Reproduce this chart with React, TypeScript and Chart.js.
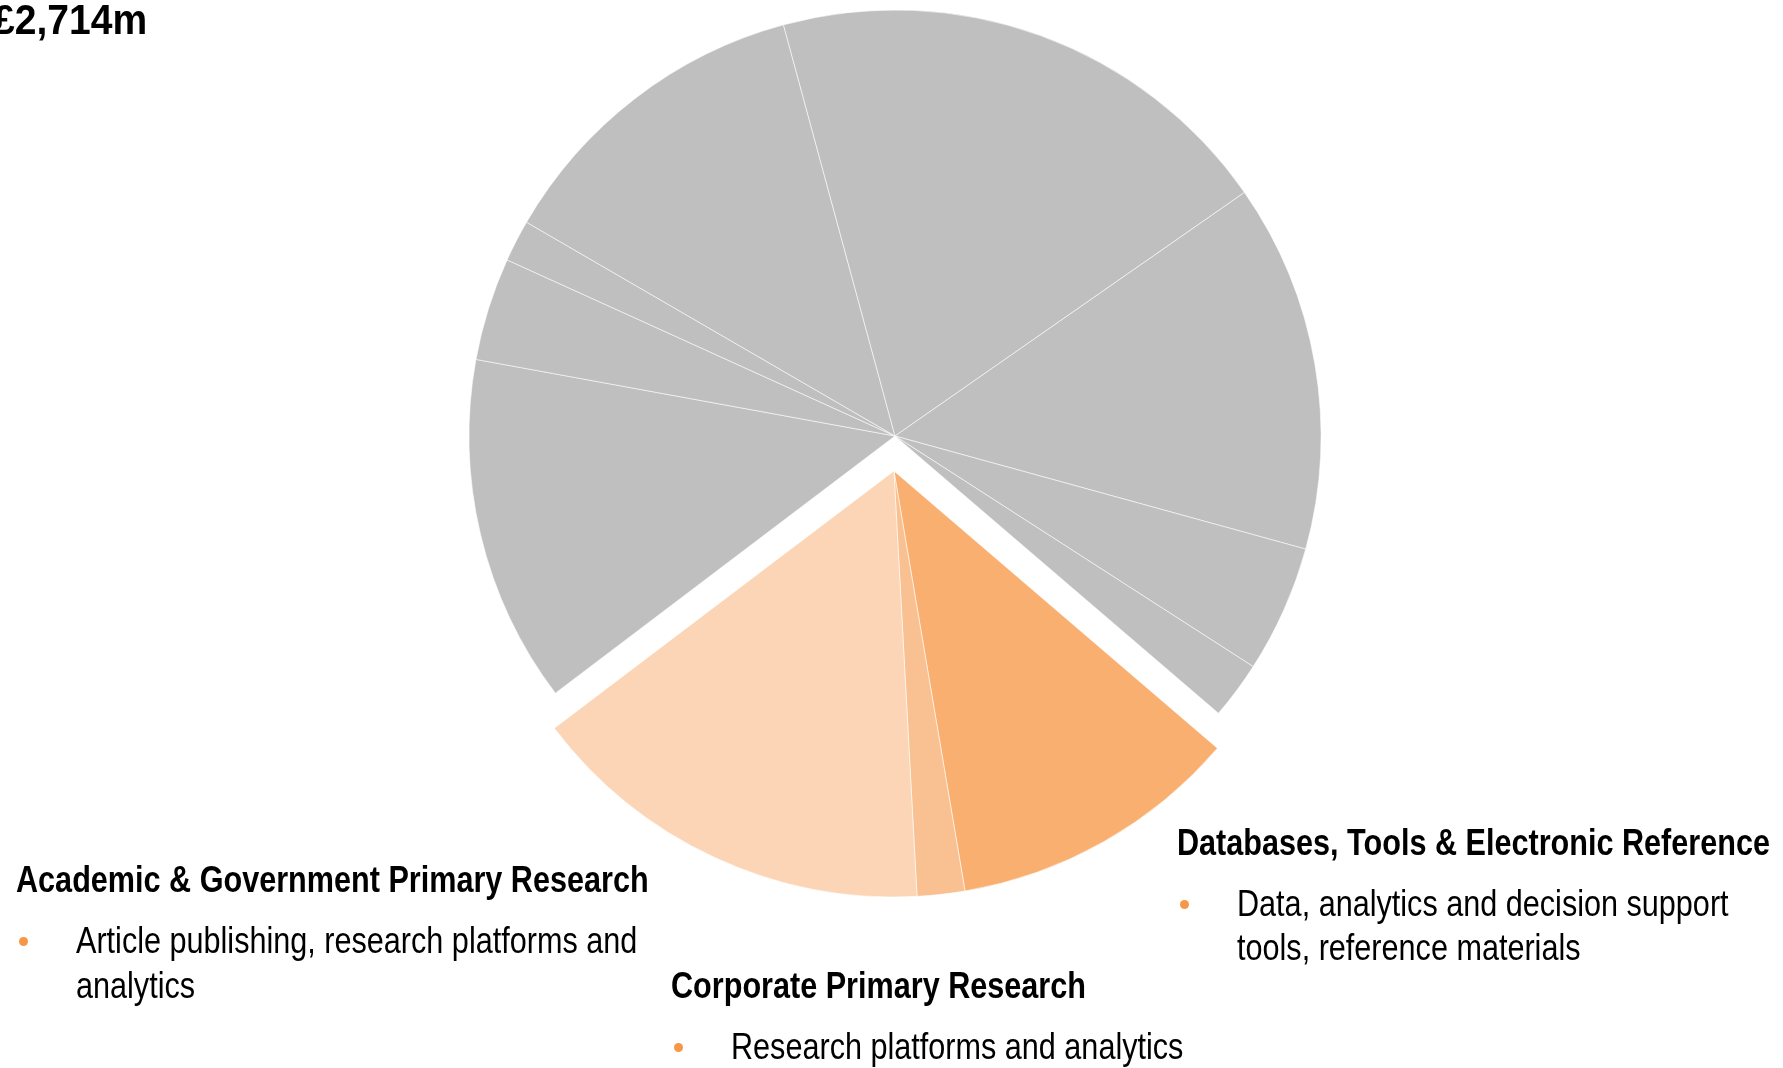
import React, { useEffect, useRef } from "react";
import { Chart, registerables } from "chart.js";

Chart.register(...registerables);

// Segment revenue (£m), clockwise from the Databases slice
const categories = [
  "Databases, Tools & Electronic Reference",
  "Corporate Primary Research",
  "Academic & Government Primary Research",
  "Segment 4",
  "Segment 5",
  "Segment 6",
  "Segment 7",
  "Segment 8",
  "Segment 9",
  "Segment 10",
  "Segment 11",
];
const values = [300, 49, 422, 358, 106, 43, 337, 530, 379, 131, 59];
const highlighted = [true, true, true, false, false, false, false, false, false, false, false];
const sliceColors = [
  "#F9AF70",
  "#F9C091",
  "#FBD5B5",
  "#BFBFBF",
  "#BFBFBF",
  "#BFBFBF",
  "#BFBFBF",
  "#BFBFBF",
  "#BFBFBF",
  "#BFBFBF",
  "#BFBFBF",
];
const totalLabel = "£2,714m";

const FONT = '"Liberation Sans", Arial, sans-serif';
const W = 1783;
const H = 1068;
const GROUP_OFFSET = 35;

const groupExplode = {
  id: "groupExplode",
  afterDatasetsUpdate(chart: any) {
    const meta = chart.getDatasetMeta(0);
    const arcs = meta.data.filter((_: any, i: number) => highlighted[i]);
    if (!arcs.length) return;
    const start = Math.min(...arcs.map((a: any) => a.startAngle));
    const end = Math.max(...arcs.map((a: any) => a.endAngle));
    const mid = (start + end) / 2;
    const dx = Math.cos(mid) * GROUP_OFFSET;
    const dy = Math.sin(mid) * GROUP_OFFSET;
    arcs.forEach((a: any) => {
      a.x += dx;
      a.y += dy;
    });
  },
};

function Bullet({ x, y }: { x: number; y: number }) {
  return (
    <div
      style={{
        position: "absolute",
        left: x - 4.5,
        top: y - 4.5,
        width: 9,
        height: 9,
        borderRadius: "50%",
        background: "#F79646",
      }}
    />
  );
}

function Line({
  x,
  y,
  text,
  bold,
  size = 37,
  squeeze = 0.827,
}: {
  x: number;
  y: number;
  text: string;
  bold?: boolean;
  size?: number;
  squeeze?: number;
}) {
  return (
    <div
      style={{
        position: "absolute",
        left: x,
        top: y - 22,
        height: 44,
        lineHeight: "44px",
        fontFamily: FONT,
        fontSize: size,
        fontWeight: bold ? 700 : 400,
        color: "#000",
        whiteSpace: "nowrap",
        transform: `scaleX(${squeeze})`,
        transformOrigin: "0 50%",
      }}
    >
      {text}
    </div>
  );
}

export default function App() {
  const ref = useRef<HTMLCanvasElement | null>(null);
  useEffect(() => {
    if (!ref.current) return;
    const chart = new Chart(ref.current, {
      type: "pie",
      data: {
        labels: categories,
        datasets: [
          {
            data: values,
            backgroundColor: sliceColors,
            borderColor: "rgba(255,255,255,0.7)",
            borderWidth: 0.8,
          },
        ],
      },
      options: {
        responsive: false,
        animation: false,
        rotation: 130.6,
        radius: 426,
        layout: { padding: { left: 7, right: 0, top: 0, bottom: 196 } },
        plugins: { legend: { display: false }, tooltip: { enabled: false } },
        events: [],
      },
      plugins: [groupExplode],
    });
    return () => chart.destroy();
  }, []);

  return (
    <div style={{ position: "absolute", left: 0, top: 0, width: W, height: H, overflow: "hidden", background: "#fff" }}>
      <canvas ref={ref} width={W} height={H} style={{ position: "absolute", left: 0, top: 0, width: W, height: H }} />
      <Line x={-7} y={20} text={totalLabel} bold size={42} squeeze={0.93} />

      <Line x={16} y={880} text="Academic & Government Primary Research" bold />
      <Bullet x={23} y={941} />
      <Line x={76} y={941} text="Article publishing, research platforms and" />
      <Line x={76} y={986} text="analytics" />

      <Line x={671} y={986} text="Corporate Primary Research" bold />
      <Bullet x={678} y={1047} />
      <Line x={731} y={1047} text="Research platforms and analytics" />

      <Line x={1177} y={843} text="Databases, Tools & Electronic Reference" bold />
      <Bullet x={1184} y={904} />
      <Line x={1237} y={904} text="Data, analytics and decision support" />
      <Line x={1237} y={948} text="tools, reference materials" />
    </div>
  );
}
